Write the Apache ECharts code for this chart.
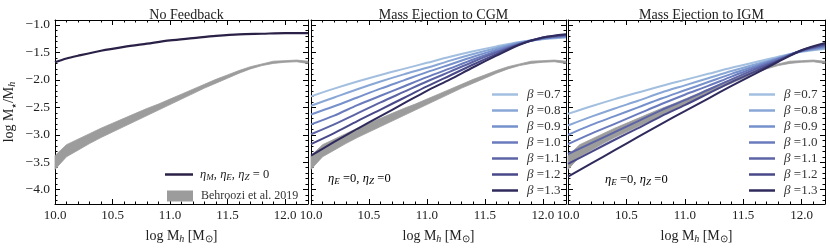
<!DOCTYPE html>
<html><head><meta charset="utf-8">
<script src="https://cdn.jsdelivr.net/npm/echarts@6/dist/echarts.min.js"></script>
<style>html,body{margin:0;padding:0;background:#fff}#c{width:830px;height:249px}</style>
</head><body><div id="c"></div>
<script>
// ---------- data ----------
const panelTitles = ['No Feedback', 'Mass Ejection to CGM', 'Mass Ejection to IGM'];
const xTicks = [10.0, 10.5, 11.0, 11.5, 12.0];
const xMinor = [10.1,10.2,10.3,10.4,10.6,10.7,10.8,10.9,11.1,11.2,11.3,11.4,11.6,11.7,11.8,11.9,12.1,12.2];
const yTicks = [-4.0, -3.5, -3.0, -2.5, -2.0, -1.5, -1.0];
const yMinor = [-4.2,-4.1,-3.9,-3.8,-3.7,-3.6,-3.4,-3.3,-3.2,-3.1,-2.9,-2.8,-2.7,-2.6,-2.4,-2.3,-2.2,-2.1,-1.9,-1.8,-1.7,-1.6,-1.4,-1.3,-1.2,-1.1,-0.9];

const noFbX = [10.0,10.1,10.2,10.4,10.6,10.8,11.0,11.2,11.4,11.6,11.8,12.0,12.2];
const noFbY = [-1.68,-1.61,-1.56,-1.47,-1.40,-1.34,-1.28,-1.24,-1.20,-1.17,-1.16,-1.15,-1.15];

const behrX  = [10.0,10.1,10.2,10.3,10.4,10.5,10.6,10.7,10.8,10.9,11.0,11.1,11.2,11.3,11.4,11.5,11.6,11.7,11.8,11.9,12.0,12.1,12.2];
const behrHi = [-3.38,-3.18,-3.08,-2.98,-2.88,-2.79,-2.70,-2.61,-2.52,-2.44,-2.35,-2.26,-2.17,-2.08,-1.99,-1.91,-1.83,-1.76,-1.71,-1.66,-1.65,-1.64,-1.66];
const behrLo = [-3.63,-3.40,-3.28,-3.16,-3.05,-2.95,-2.85,-2.75,-2.65,-2.55,-2.45,-2.35,-2.25,-2.15,-2.06,-1.97,-1.88,-1.80,-1.74,-1.70,-1.68,-1.67,-1.70];

const betaX = [10.0,10.2,10.4,10.6,10.8,11.0,11.2,11.4,11.6,11.8,12.0,12.2];
const betaLabels = ['0.7','0.8','0.9','1.0','1.1','1.2','1.3'];
const cgmB07 = [-2.30,-2.16,-2.03,-1.91,-1.80,-1.69,-1.58,-1.48,-1.39,-1.31,-1.26,-1.23];
const cgmB08 = [-2.47,-2.32,-2.17,-2.03,-1.90,-1.78,-1.65,-1.53,-1.42,-1.32,-1.25,-1.22];
const cgmB09 = [-2.63,-2.48,-2.32,-2.16,-2.01,-1.86,-1.72,-1.58,-1.45,-1.33,-1.25,-1.21];
const cgmB10 = [-2.81,-2.65,-2.46,-2.29,-2.12,-1.95,-1.79,-1.63,-1.48,-1.34,-1.24,-1.20];
const cgmB11 = [-2.99,-2.81,-2.61,-2.41,-2.22,-2.03,-1.85,-1.67,-1.50,-1.35,-1.24,-1.19];
const cgmB12 = [-3.17,-2.97,-2.75,-2.54,-2.33,-2.12,-1.92,-1.72,-1.53,-1.35,-1.23,-1.18];
const cgmB13 = [-3.38,-3.13,-2.89,-2.66,-2.43,-2.20,-1.99,-1.77,-1.56,-1.36,-1.23,-1.17];
const igmB07 = [-2.62,-2.48,-2.35,-2.23,-2.11,-2.00,-1.89,-1.78,-1.68,-1.58,-1.49,-1.44];
const igmB08 = [-2.83,-2.67,-2.52,-2.38,-2.23,-2.10,-1.97,-1.84,-1.72,-1.60,-1.48,-1.42];
const igmB09 = [-3.00,-2.82,-2.66,-2.50,-2.34,-2.19,-2.04,-1.89,-1.75,-1.61,-1.48,-1.40];
const igmB10 = [-3.17,-2.98,-2.80,-2.62,-2.44,-2.27,-2.11,-1.94,-1.78,-1.62,-1.47,-1.39];
const igmB11 = [-3.35,-3.15,-2.95,-2.75,-2.55,-2.37,-2.18,-1.99,-1.81,-1.64,-1.47,-1.37];
const igmB12 = [-3.53,-3.31,-3.09,-2.88,-2.66,-2.46,-2.25,-2.04,-1.85,-1.65,-1.46,-1.35];
const igmB13 = [-3.76,-3.52,-3.28,-3.04,-2.80,-2.57,-2.34,-2.11,-1.89,-1.67,-1.46,-1.33];

// ---------- styling ----------
const FONT = 'Liberation Serif';
const betaColors = ['#a3bfe0','#88a6d6','#7690cc','#6a7bbd','#5c64a6','#494989','#2f2a5c'];
const noFbColor = '#2b2147';
const bandColor = '#9c9c9c';
const grids = [
  {left: 55, top: 20, width: 253, height: 188},
  {left: 311, top: 20, width: 255, height: 188},
  {left: 568, top: 20, width: 257, height: 188}
];
const X_MIN = 10.0, X_MAX = 12.2, Y_MIN = -4.26, Y_MAX = -0.91;
const fmt = v => (v < 0 ? '\u2212' : '') + Math.abs(v).toFixed(1);

const nameRich = {
  n: {fontFamily: FONT, fontSize: 14, color: '#222', lineHeight: 16, verticalAlign: 'middle'},
  s: {fontFamily: FONT, fontSize: 10, fontStyle: 'italic', color: '#222', lineHeight: 10, verticalAlign: 'bottom'},
  sb: {fontFamily: FONT, fontSize: 10, color: '#222', lineHeight: 10, verticalAlign: 'bottom'},
  st: {fontFamily: 'DejaVu Sans', fontSize: 6, color: '#222', lineHeight: 9, verticalAlign: 'bottom'}
};

const xAxes = [], yAxes = [];
grids.forEach((g, gi) => {
  const base = {gridIndex: gi, type: 'value', min: X_MIN, max: X_MAX, splitLine: {show: false}};
  xAxes.push(Object.assign({}, base, {
    position: 'bottom',
    axisLine: {show: true, lineStyle: {color: '#000', width: 1}},
    axisTick: {show: true, inside: true, length: 5, customValues: xTicks, lineStyle: {color: '#000'}},
    axisLabel: {show: true, customValues: xTicks, formatter: fmt, fontFamily: FONT, fontSize: 13, color: '#222', margin: 5},
    name: '{n|log M}{s|h} {n|[M}{sb|\u2299}{n|]}',
    nameLocation: 'middle', nameGap: 24,
    nameTextStyle: {rich: nameRich}
  }));
  xAxes.push(Object.assign({}, base, {
    position: 'top',
    axisLine: {show: true, lineStyle: {color: '#000', width: 1}},
    axisTick: {show: true, inside: true, length: 5, customValues: xTicks, lineStyle: {color: '#000'}},
    axisLabel: {show: false}
  }));
  ['bottom', 'top'].forEach(p => xAxes.push(Object.assign({}, base, {
    position: p,
    axisLine: {show: false},
    axisTick: {show: true, inside: true, length: 2.5, customValues: xMinor, lineStyle: {color: '#000'}},
    axisLabel: {show: false}
  })));

  const ybase = {gridIndex: gi, type: 'value', min: Y_MIN, max: Y_MAX, splitLine: {show: false}};
  const left = Object.assign({}, ybase, {
    position: 'left',
    axisLine: {show: true, lineStyle: {color: '#000', width: 1}},
    axisTick: {show: true, inside: true, length: 5, customValues: yTicks, lineStyle: {color: '#000'}},
    axisLabel: {show: gi === 0, customValues: yTicks, formatter: fmt, fontFamily: FONT, fontSize: 13.5, color: '#222', margin: 5}
  });
  if (gi === 0) {
    Object.assign(left, {
      name: '{n|log M}{st|\u2605}{n|/M}{s|h}',
      nameLocation: 'middle', nameGap: 38, nameRotate: 90,
      nameTextStyle: {rich: nameRich}
    });
  }
  yAxes.push(left);
  yAxes.push(Object.assign({}, ybase, {
    position: 'right',
    axisLine: {show: true, lineStyle: {color: '#000', width: 1}},
    axisTick: {show: true, inside: true, length: 5, customValues: yTicks, lineStyle: {color: '#000'}},
    axisLabel: {show: false}
  }));
  ['left', 'right'].forEach(p => yAxes.push(Object.assign({}, ybase, {
    position: p,
    axisLine: {show: false},
    axisTick: {show: true, inside: true, length: 2.5, customValues: yMinor, lineStyle: {color: '#000'}},
    axisLabel: {show: false}
  })));
});

const pairs = (xs, ys) => xs.map((x, i) => [x, ys[i]]);
const series = [];
function addBand(gi) {
  series.push({
    name: 'Behroozi et al. 2019', type: 'custom', xAxisIndex: gi * 4, yAxisIndex: gi * 4,
    silent: true, z: 1, color: bandColor,
    encode: {x: 0, y: [1, 2]},
    data: behrX.map((x, i) => [x, behrLo[i], behrHi[i]]),
    renderItem: (params, api) => {
      if (params.dataIndexInside !== 0) return null;
      const n = params.dataInsideLength;
      const top = [], bot = [];
      for (let j = 0; j < n; j++) {
        const x = api.value(0, j);
        bot.push(api.coord([x, api.value(1, j)]));
        top.push(api.coord([x, api.value(2, j)]));
      }
      return {
        type: 'polygon',
        shape: {points: bot.concat(top.reverse())},
        style: {fill: bandColor, stroke: bandColor, lineWidth: 0.8}
      };
    }
  });
}
addBand(0);
series.push({
  name: 'noFeedback', type: 'line', xAxisIndex: 0, yAxisIndex: 0, symbol: 'none', smooth: 0.3, z: 3,
  color: noFbColor, lineStyle: {color: noFbColor, width: 2.2},
  data: pairs(noFbX, noFbY)
});
const cgmSets = [cgmB07, cgmB08, cgmB09, cgmB10, cgmB11, cgmB12, cgmB13];
const igmSets = [igmB07, igmB08, igmB09, igmB10, igmB11, igmB12, igmB13];
[[1, cgmSets], [2, igmSets]].forEach(([gi, sets]) => {
  addBand(gi);
  sets.forEach((ys, k) => series.push({
    name: '\u03b2 =' + betaLabels[k], type: 'line', xAxisIndex: gi * 4, yAxisIndex: gi * 4,
    symbol: 'none', smooth: 0.3, z: 3, color: betaColors[k],
    lineStyle: {color: betaColors[k], width: 2},
    data: pairs(betaX, ys)
  }));
});

const richBase = {
  n: {fontFamily: FONT, fontSize: 12.5, color: '#222', lineHeight: 16, verticalAlign: 'middle'},
  i: {fontFamily: FONT, fontSize: 12.5, fontStyle: 'italic', color: '#222', lineHeight: 16, verticalAlign: 'middle'},
  s: {fontFamily: FONT, fontSize: 9, fontStyle: 'italic', color: '#222', lineHeight: 9, verticalAlign: 'bottom'}
};
const betaLegend = left => ({
  orient: 'vertical', left: left, top: 83, itemWidth: 26, itemHeight: 2.5, itemGap: 3,
  icon: 'rect', selectedMode: false,
  data: betaLabels.map(b => '\u03b2 =' + b),
  formatter: name => '{i|\u03b2} {n|=' + name.split('=')[1] + '}',
  textStyle: {padding: [0, 0, 0, 4], rich: {
    n: {fontFamily: FONT, fontSize: 13, color: '#333', lineHeight: 14},
    i: {fontFamily: FONT, fontSize: 13, fontStyle: 'italic', color: '#333', lineHeight: 14}
  }}
});

const etaText = '{i|\u03b7}{s|E} {n|=0,} {i|\u03b7}{s|Z} {n|=0}';

const option = {
  animation: false,
  backgroundColor: '#fff',
  grid: grids.map(g => Object.assign({containLabel: false}, g)),
  title: panelTitles.map((t, i) => ({
    text: t, left: grids[i].left + grids[i].width / 2, top: 3, textAlign: 'center',
    textStyle: {fontFamily: FONT, fontSize: 14, fontWeight: 'normal', color: '#222'}
  })),
  xAxis: xAxes,
  yAxis: yAxes,
  legend: [
    {left: 160, top: 163, itemWidth: 28, itemHeight: 2.5, icon: 'rect', selectedMode: false,
     data: ['noFeedback'],
     formatter: () => '{i|\u03b7}{s|M}{n|,} {i|\u03b7}{s|E}{n|,} {i|\u03b7}{s|Z} {n|= 0}',
     textStyle: {padding: [0, 0, 0, 2], rich: richBase}},
    {left: 162, top: 185, itemWidth: 26, itemHeight: 11, icon: 'rect', selectedMode: false,
     data: [{name: 'Behroozi et al. 2019', itemStyle: {color: bandColor}}],
     textStyle: {fontFamily: FONT, fontSize: 12, color: '#333', padding: [0, 0, 0, 3]}},
    betaLegend(487),
    betaLegend(744)
  ],
  graphic: [
    {type: 'text', left: 328, top: 172, style: {text: etaText, rich: richBase}},
    {type: 'text', left: 605, top: 173, style: {text: etaText, rich: richBase}}
  ],
  series: series
};
const chart = echarts.init(document.getElementById('c'), null, {renderer: 'canvas'});
chart.setOption(option);
</script></body></html>
